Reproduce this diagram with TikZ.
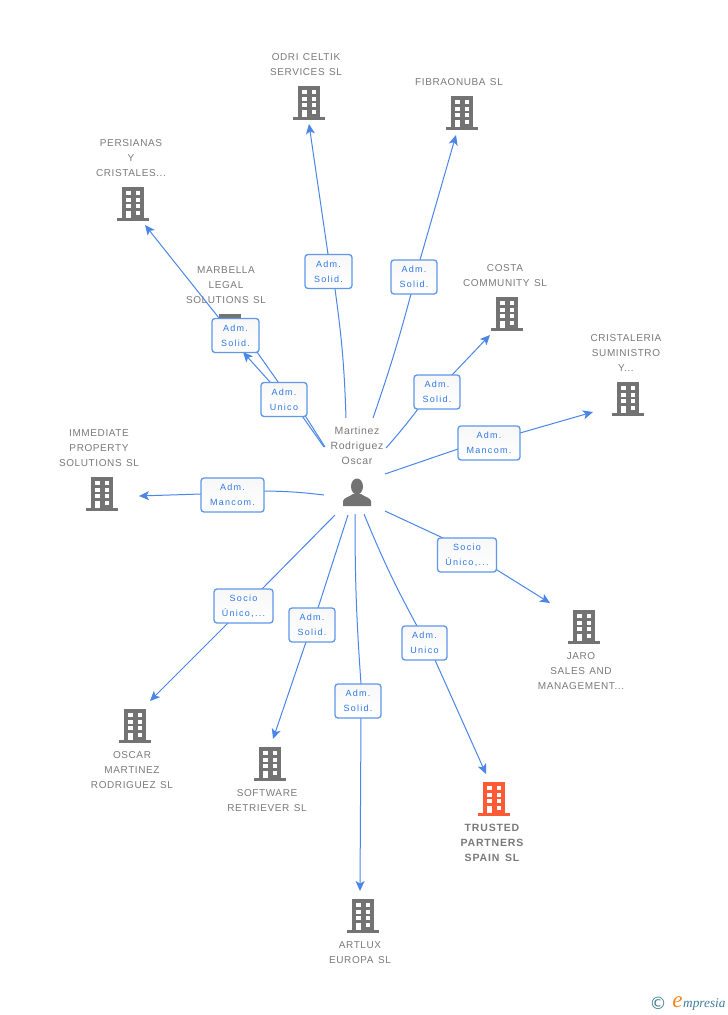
\documentclass[tikz,border=0pt]{standalone}
\usepackage{fontspec}
\setmainfont{Liberation Sans}
\newfontfamily\lblfont[LetterSpace=6,WordSpace=1.3]{Liberation Sans}
\newfontfamily\hotfont[LetterSpace=8,WordSpace=1.5]{Liberation Sans}
\newfontfamily\boxfont[LetterSpace=14,WordSpace=1]{Liberation Sans}
\newfontfamily\logofont{Liberation Serif}
\usetikzlibrary{arrows.meta,backgrounds,shadings}
\definecolor{txtgray}{HTML}{7A7A7A}
\definecolor{iconc}{HTML}{737373}
\definecolor{hot}{HTML}{FF5A36}
\definecolor{linkc}{HTML}{4A86E8}
\definecolor{boxb}{HTML}{5F97EA}
\definecolor{boxt}{HTML}{2F78E4}
\definecolor{logoc}{HTML}{3F7F99}
\definecolor{logoo}{HTML}{F08A1D}
\tikzset{
  x=1pt,y=-1pt,
  lbl/.style={text=txtgray,align=center,inner sep=0pt,font=\lblfont\fontsize{10}{15}\selectfont},
  hotlbl/.style={text=txtgray,align=center,inner sep=0pt,font=\hotfont\fontsize{10.5}{15}\selectfont\bfseries},
  role/.style={draw=boxb,line width=1.3pt,rounded corners=3pt,top color=gray!6,bottom color=white,
    text=boxt,align=center,inner sep=0pt,minimum height=34pt,font=\boxfont\fontsize{9}{15}\selectfont},
  conn/.style={draw=linkc,line width=1pt},
  arr/.style={conn,-{Stealth[length=10pt,width=9pt,inset=2.5pt]}},
}
% #1 name, #2 x, #3 y, #4 colour
\newcommand\building[4]{%
  \coordinate (#1) at (#2,#3);
  \begin{scope}[shift={(#1)}]
    \fill[#4] (-11,-17) rectangle (11,14);
    \fill[#4] (-16,14) rectangle (16,17);
    \foreach \xx/\yy in {-7/-13,2.7/-13,-7/-6.3,2.7/-6.3,-7/0.3,2.7/0.3,2.7/7}
      \fill[white] (\xx,\yy) rectangle ++(4.6,4);
    \fill[white] (-7,7) rectangle (-2.4,14);
  \end{scope}}
\begin{document}
\begin{tikzpicture}
\useasboundingbox (0,0) rectangle (728,1015);
\begin{scope}[on background layer]\fill[white] (0,0) rectangle (728,1015);\end{scope}

% role boxes
\node[role,minimum width=47pt] (lodri) at (328.5,271.5) {Adm.\\Solid.};
\node[role,minimum width=46pt] (lfibra) at (414,277) {Adm.\\Solid.};
\node[role,minimum width=47pt] (lpers) at (235.5,335.5) {Adm.\\Solid.};
\node[role,minimum width=46pt] (lmarb) at (284,399.5) {Adm.\\Unico};
\node[role,minimum width=46pt] (lcosta) at (437,392) {Adm.\\Solid.};
\node[role,minimum width=62pt] (lcrist) at (489,443) {Adm.\\Mancom.};
\node[role,minimum width=63pt] (limm) at (232.5,495) {Adm.\\Mancom.};
\node[role,minimum width=59pt] (ljaro) at (467,555) {Socio\\Único,...};
\node[role,minimum width=59pt] (losc) at (243.5,606) {Socio\\Único,...};
\node[role,minimum width=46pt] (lsoft) at (312,625) {Adm.\\Solid.};
\node[role,minimum width=46pt] (lart) at (358,701) {Adm.\\Solid.};
\node[role,minimum width=45pt] (ltrust) at (424.5,643) {Adm.\\Unico};

% connector ends: s start, i where it enters the box, o where it leaves, e tip
\foreach \n/\xx/\yy in {
  sodri/346/418, iodri/335/289, oodri/328/254, eodri/309/124,
  sfibra/373/418, ifibra/411/294, ofibra/420/260, efibra/456/135,
  spers/324/447, ipers/257/352, opers/219/318, epers/145/225,
  smarb/325/447, imarb/306/417, omarb/270/382, emarb/243/352,
  scosta/386/448, icosta/418/409, ocosta/452/375, ecosta/490/335,
  scrist/385/474, icrist/458/449, ocrist/520/433, ecrist/593/412,
  simm/324/495, iimm/264/491, oimm/201/494, eimm/139/496,
  sjaro/385/511, ijaro/443/538, ojaro/497/570, ejaro/550/603,
  sosc/335/515, iosc/262/589, oosc/228/623, eosc/150/701,
  ssoft/348/515, isoft/318/608, osoft/306/642, esoft/273/739,
  sart/355/514, iart/361/684, oart/361/718, eart/360/891,
  strust/364/514, itrust/417/626, otrust/435/660, etrust/486/774}
  \coordinate (\n) at (\xx,\yy);

\begin{scope}[on background layer]
  \draw[conn] (sodri) to[bend right=3] (iodri) -- (oodri);
  \draw[arr] (oodri) -- (eodri);
  \draw[conn] (sfibra) to[bend right=2] (ifibra) -- (ofibra);
  \draw[arr] (ofibra) -- (efibra);
  \draw[conn] (spers) -- (ipers) -- (opers);
  \draw[arr] (opers) -- (epers);
  \draw[conn] (smarb) -- (imarb) -- (omarb);
  \draw[arr] (omarb) -- (emarb);
  \draw[conn] (scosta) to[bend right=2] (icosta) -- (ocosta);
  \draw[arr] (ocosta) -- (ecosta);
  \draw[conn] (scrist) -- (icrist) -- (ocrist);
  \draw[arr] (ocrist) -- (ecrist);
  \draw[conn] (simm) to[bend right=3] (iimm) -- (oimm);
  \draw[arr] (oimm) -- (eimm);
  \draw[conn] (sjaro) -- (ijaro) -- (ojaro);
  \draw[arr] (ojaro) -- (ejaro);
  \draw[conn] (sosc) -- (iosc) -- (oosc);
  \draw[arr] (oosc) -- (eosc);
  \draw[conn] (ssoft) -- (isoft) -- (osoft);
  \draw[arr] (osoft) -- (esoft);
  \draw[conn] (sart) to[bend right=2] (iart) -- (oart);
  \draw[arr] (oart) -- (eart);
  \draw[conn] (strust) to[bend right=3] (itrust) -- (otrust);
  \draw[arr] (otrust) -- (etrust);
  % Marbella icon lies under its role box
  \building{bmarb}{230}{331}{iconc}
\end{scope}

% buildings
\building{bodri}{309}{103}{iconc}
\building{bfibra}{462}{113}{iconc}
\building{bpers}{133}{204}{iconc}
\building{bcosta}{507}{314}{iconc}
\building{bcrist}{628}{399}{iconc}
\building{bimm}{102}{494}{iconc}
\building{bjaro}{584}{627}{iconc}
\building{bosc}{135}{726}{iconc}
\building{bsoft}{270}{764}{iconc}
\building{bart}{363}{916}{iconc}
\building{btrust}{494}{799}{hot}

% person
\coordinate (hub) at (357,492);
\begin{scope}[shift={(hub)}]
  \fill[iconc] (0,-5.5) ellipse [x radius=6, y radius=8];
  \fill[iconc] (-14,14) -- (-14,9) .. controls (-13,5.5) and (-8,5) .. (-4,2)
    -- (4,2) .. controls (8,5) and (13,5.5) .. (14,9) -- (14,14) -- cycle;
\end{scope}

% texts
\node[lbl] (todri) at (306,65) {ODRI CELTIK\\SERVICES SL};
\node[lbl] (tfibra) at (459,82.5) {FIBRAONUBA SL};
\node[lbl] (tpers) at (131,158.5) {PERSIANAS\\Y\\CRISTALES...};
\node[lbl] (tmarb) at (226,285.5) {MARBELLA\\LEGAL\\SOLUTIONS SL};
\node[lbl] (tcosta) at (505,276) {COSTA\\COMMUNITY SL};
\node[lbl] (tcrist) at (626,353.5) {CRISTALERIA\\SUMINISTRO\\Y...};
\node[lbl] (timm) at (99,448.5) {IMMEDIATE\\PROPERTY\\SOLUTIONS SL};
\node[lbl] (tjaro) at (581,671.5) {JARO\\SALES AND\\MANAGEMENT...};
\node[lbl] (tosc) at (132,770.5) {OSCAR\\MARTINEZ\\RODRIGUEZ SL};
\node[lbl] (tsoft) at (267,801) {SOFTWARE\\RETRIEVER SL};
\node[lbl] (tart) at (360,953) {ARTLUX\\EUROPA SL};
\node[hotlbl] (ttrust) at (492,842.5) {TRUSTED\\PARTNERS\\SPAIN SL};
\node[lbl,font=\lblfont\fontsize{10.5}{15}\selectfont] (thub) at (357,445.5) {Martinez\\Rodriguez\\Oscar};

% logo
\node[text=logoc,inner sep=0pt,font=\fontspec{DejaVu Sans}\fontsize{17}{17}\selectfont] (copy) at (658,1003) {©};
\node[text=logoo,inner sep=0pt,font=\logofont\itshape\fontsize{23}{23}\selectfont] (loge) at (677.5,1002) {e};
\node[text=logoc,inner sep=0pt,anchor=west,font=\logofont\itshape\fontsize{13.3}{13.3}\selectfont] (logt) at (683,1005) {mpresia};
\end{tikzpicture}
\end{document}
